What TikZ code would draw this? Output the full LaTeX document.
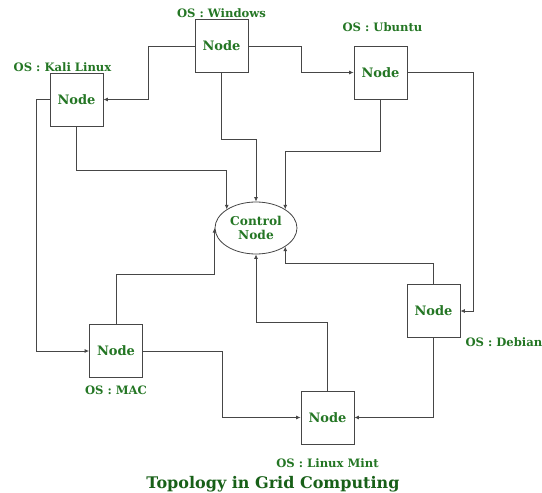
\documentclass[tikz,border=0pt]{standalone}
\usepackage{fontspec}
\setmainfont{DejaVu Serif}
\usepackage{tikz}
\usetikzlibrary{positioning,arrows.meta,shapes.geometric}

\definecolor{nodegreen}{RGB}{36,118,36}
\definecolor{titlegreen}{RGB}{24,96,24}
\definecolor{wiregray}{RGB}{70,70,70}

\tikzset{
    gridbox/.style={draw=wiregray, line width=0.8pt, minimum size=53pt, inner sep=0pt,
        text=nodegreen, font=\fontsize{13}{15}\selectfont\bfseries},
    ctrlnode/.style={ellipse, draw=wiregray, line width=0.8pt, minimum width=82pt, minimum height=52pt,
        inner sep=0pt, align=center, text=nodegreen, font=\fontsize{12.2}{14}\selectfont\bfseries},
    oslabel/.style={text=nodegreen, font=\fontsize{11.6}{13}\selectfont\bfseries, inner sep=1pt},
    wire/.style={draw=wiregray, line width=0.8pt, -{Latex[length=4.5pt,width=4pt]}}
}

\begin{document}
\begin{tikzpicture}[x=1pt,y=-1pt]
        \useasboundingbox (0,0) rectangle (542,493);

        \node[gridbox] (win) at (221.5,46) {Node};
        \node[gridbox] (kali) at (76.5,99.5) {Node};
        \node[gridbox] (ubu) at (380.5,72.5) {Node};
        \node[ctrlnode] (ctrl) at (256,228) {Control\\Node};
        \node[gridbox] (mac) at (116,351) {Node};
        \node[gridbox] (deb) at (433.5,311) {Node};
        \node[gridbox] (mint) at (327.5,417.5) {Node};

        \node[oslabel, above=0pt of win] {OS : Windows};
        \node[oslabel, above=0pt of kali, xshift=-14pt] {OS : Kali Linux};
        \node[oslabel, above=13pt of ubu, xshift=2pt] {OS : Ubuntu};
        \node[oslabel, below=7pt of mac] {OS : MAC};
        \node[oslabel, anchor=north west] at ([xshift=4pt,yshift=1pt]deb.south east) {OS : Debian};
        \node[oslabel, below=13pt of mint] {OS : Linux Mint};

        \node[text=titlegreen, font=\fontsize{16}{18}\selectfont\bfseries] (title) at (273,484) {Topology in Grid Computing};

        % links between the nodes
        \draw[wire] (win.west) -- ++(-46,0) |- (kali.east);
        \draw[wire] (win.east) -- ++(53,0) |- (ubu.west);
        \draw[wire] (win.south) -- ++(0,66) -| (ctrl.north);
        \draw[wire] (kali.south) -- ++(0,44) -| (ctrl.north west);
        \draw[wire] (kali.west) -- ++(-13,0) |- (mac.west);
        \draw[wire] (ubu.south) -- ++(0,52) -| (ctrl.north east);
        \draw[wire] (ubu.east) -- ++(66,0) |- (deb.east);
        \draw[wire] (mac.north) -- ++(0,-50) -| (ctrl.west);
        \draw[wire] (mac.east) -- ++(79,0) |- (mint.west);
        \draw[wire] (mint.north) -- ++(0,-68) -| (ctrl.south);
        \draw[wire] (deb.north) -- ++(0,-21) -| (ctrl.south east);
        \draw[wire] (deb.south) |- (mint.east);
    \end{tikzpicture}
\end{document}
